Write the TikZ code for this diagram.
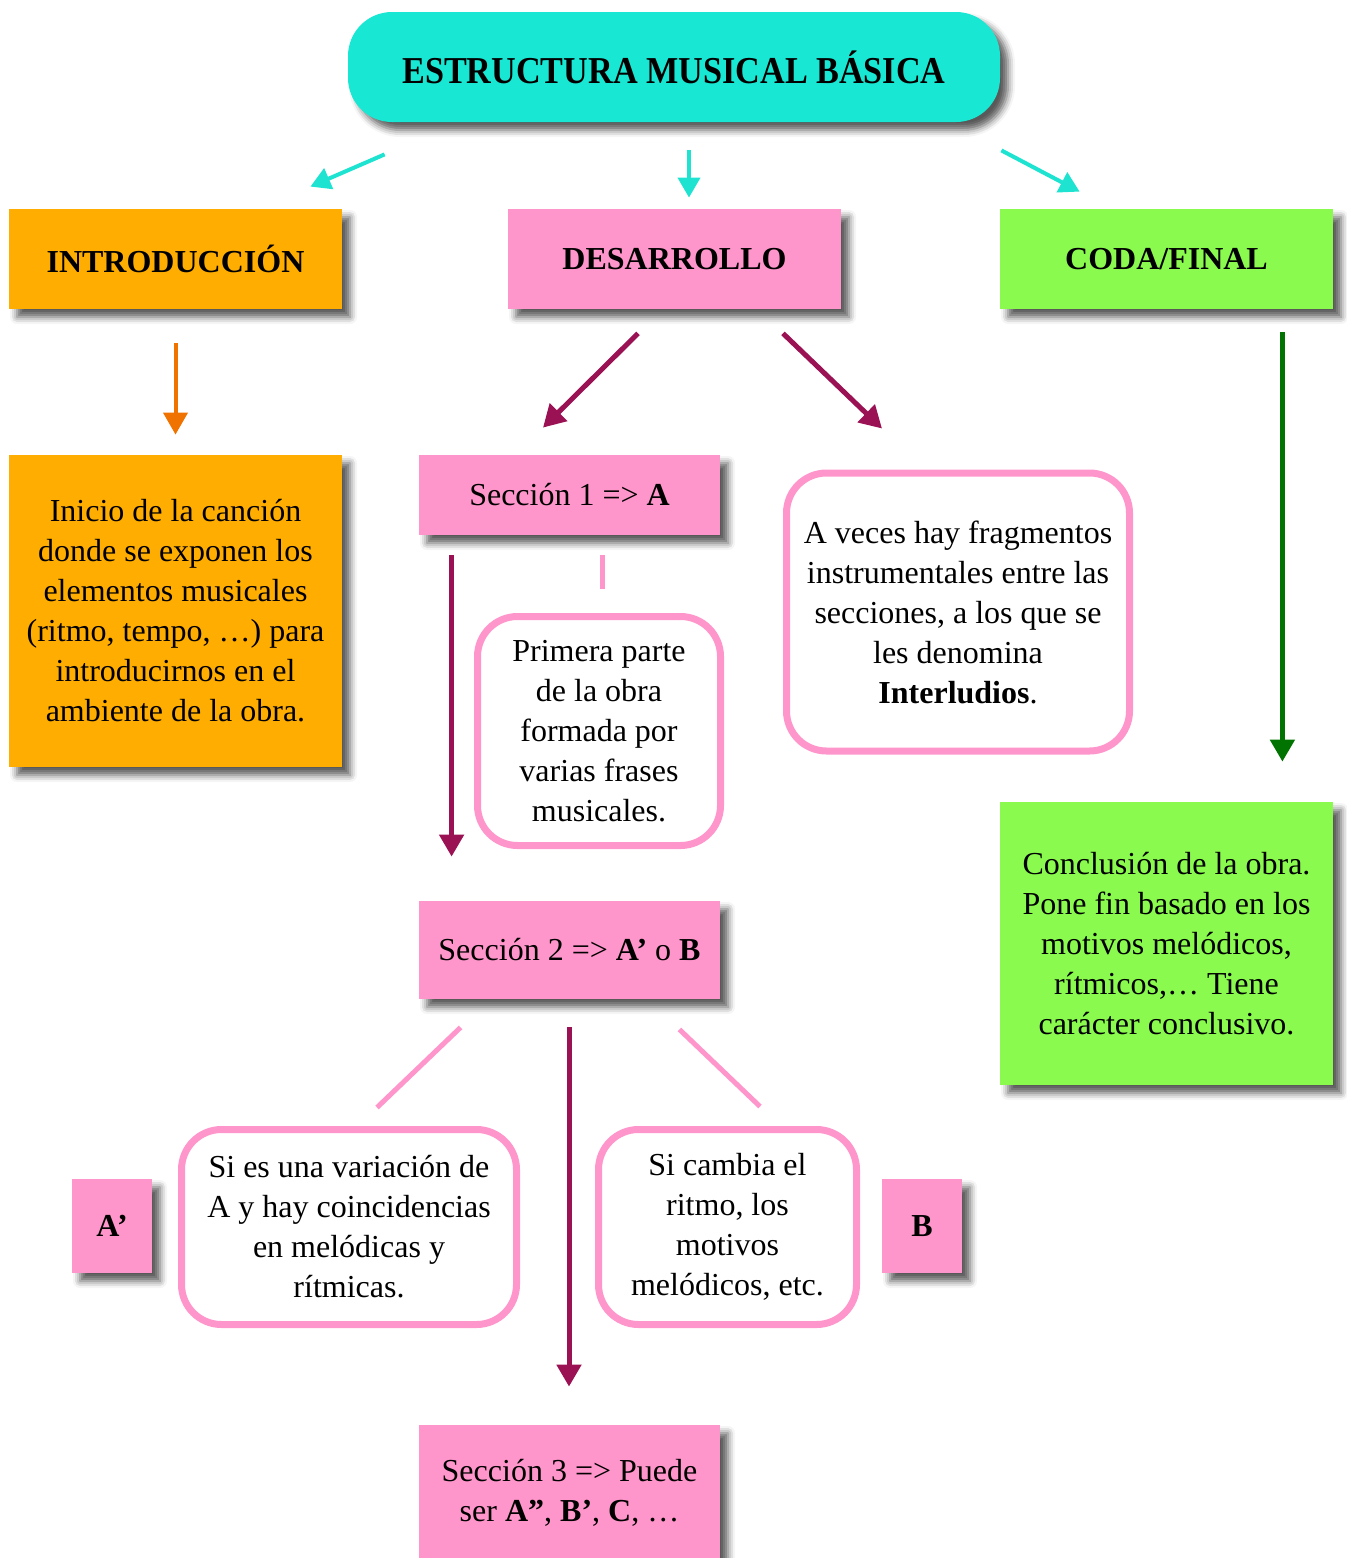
\documentclass[tikz,border=0pt]{standalone}
\usepackage{fontspec}
\setmainfont{Liberation Serif}
\usetikzlibrary{arrows.meta,positioning,calc,shadows.blur}
\definecolor{TitleTeal}{HTML}{18E8D3}
\definecolor{IntroOrange}{HTML}{FFAD00}
\definecolor{SecPink}{HTML}{FF96CB}
\definecolor{CodaGreen}{HTML}{8AFA4F}
\definecolor{ArrTeal}{HTML}{1EE3D0}
\definecolor{ArrOrange}{HTML}{F07300}
\definecolor{ArrPurple}{HTML}{9A1154}
\definecolor{ArrGreen}{HTML}{007300}
\begin{document}
\begin{tikzpicture}[x=0.5pt, y=-0.5pt,
  every node/.style={font=\fontsize{16}{20}\selectfont, align=center, inner sep=0pt},
  fillbox/.style={draw=none, blur shadow={shadow xshift=4pt, shadow yshift=-4pt, shadow blur radius=3.5pt, shadow opacity=65}},
  boldlabel/.style={font=\fontsize{16}{20}\selectfont\bfseries},
  notebox/.style={draw=SecPink, line width=3.5pt, rounded corners=20pt, fill=white},
  tipped/.style={-{Triangle[width=12pt,length=11pt]}},
  titlearrow/.style={tipped, draw=ArrTeal, line width=2pt, -{Triangle[width=11pt,length=10pt]}},
  purplearrow/.style={tipped, draw=ArrPurple, line width=2.5pt},
  pinkline/.style={draw=SecPink, line width=2.5pt}]
\useasboundingbox (0,0) rectangle (1346,1558);

% title and top row
\node[fillbox, fill=TitleTeal, rounded corners=22pt, minimum width=326pt, minimum height=55pt,
  font=\fontsize{19}{22}\selectfont\bfseries] (title) at (674,67) {\scalebox{0.9}[1]{ESTRUCTURA MUSICAL BÁSICA}};
\node[fillbox, boldlabel, fill=IntroOrange, minimum width=166.5pt, minimum height=50pt] (intro) at (175.5,259) {INTRODUCCIÓN};
\node[fillbox, boldlabel, fill=SecPink, minimum width=166.5pt, minimum height=50pt] (des) at (674.5,259) {DESARROLLO};
\node[fillbox, boldlabel, fill=CodaGreen, minimum width=166.5pt, minimum height=50pt] (coda) at (1166.5,259) {CODA/FINAL};

% left column
\node[fillbox, fill=IntroOrange, minimum width=166.5pt, minimum height=156pt] (introtext) at (175.5,611)
  {Inicio de la canción\\donde se exponen los\\elementos musicales\\(ritmo, tempo, …) para\\introducirnos en el\\ambiente de la obra.};

% middle column
\node[fillbox, fill=SecPink, minimum width=150.5pt, minimum height=40pt] (sec1) at (569.5,495) {Sección 1 => \textbf{A}};
\node[notebox, minimum width=121.5pt, minimum height=114.5pt] (primera) at (599,731)
  {Primera parte\\de la obra\\formada por\\varias frases\\musicales.};
\node[notebox, minimum width=171.5pt, minimum height=139pt] (inter) at (958,612)
  {A veces hay fragmentos\\instrumentales entre las\\secciones, a los que se\\les denomina\\\textbf{Interludios}.};
\node[fillbox, fill=SecPink, minimum width=150.5pt, minimum height=49pt] (sec2) at (569.5,950) {Sección 2 => \textbf{A’} o \textbf{B}};
\node[notebox, minimum width=167.5pt, minimum height=97.5pt] (variacion) at (349,1227)
  {Si es una variación de\\A y hay coincidencias\\en melódicas y\\rítmicas.};
\node[notebox, minimum width=129pt, minimum height=97.5pt] (cambia) at (727.5,1227)
  {Si cambia el\\ritmo, los\\motivos\\melódicos, etc.};
\node[fillbox, boldlabel, fill=SecPink, minimum width=40pt, minimum height=47pt] (aprima) at (112,1226) {A’};
\node[fillbox, boldlabel, fill=SecPink, minimum width=40pt, minimum height=47pt] (bvar) at (922,1226) {B};
\node[fillbox, fill=SecPink, minimum width=150.5pt, minimum height=68pt] (sec3) at (569.5,1493)
  {Sección 3 => Puede\\ser \textbf{A”}, \textbf{B’}, \textbf{C}, …};

% right column
\node[fillbox, fill=CodaGreen, minimum width=166.5pt, minimum height=141.5pt] (concl) at (1166.5,943.5)
  {Conclusión de la obra.\\Pone fin basado en los\\motivos melódicos,\\rítmicos,… Tiene\\carácter conclusivo.};

% connectors
\draw[titlearrow] ($(title.south west)+(37,32)$) -- ($(intro.north east)+(-32,-22)$);
\draw[titlearrow] ($(title.south)+(15,28)$) -- ($(des.north)+(14.5,-11)$);
\draw[titlearrow] ($(title.south east)+(1,28)$) -- ($(coda.north west)+(80,-17)$);
\draw[tipped, draw=ArrOrange, line width=2pt] ($(intro.south)+(0,34)$) -- ($(introtext.north)+(0,-20)$);
\draw[purplearrow] ($(des.south)+(-36.5,24)$) -- ($(sec1.north)+(-26.5,-27)$);
\draw[purplearrow] ($(des.south)+(108.5,24)$) -- ($(inter.north)+(-76,-41)$);
\draw[purplearrow] ($(sec1.south west)+(33,20)$) -- ($(sec2.north west)+(33,-44)$);
\draw[pinkline] ($(sec1.south)+(32.5,20)$) -- ($(primera.north)+(3,-24.5)$);
\draw[pinkline] ($(sec2.south west)+(42,28)$) -- ($(variacion.north)+(28,-18.5)$);
\draw[pinkline] ($(sec2.south east)+(-41,30)$) -- ($(cambia.north)+(32.5,-19.5)$);
\draw[purplearrow] ($(sec2.south)+(-0.5,28)$) -- ($(sec3.north)+(-0.5,-38)$);
\draw[tipped, draw=ArrGreen, line width=2.5pt] ($(coda.south east)+(-51,23)$) -- ($(concl.north east)+(-51,-40)$);
\end{tikzpicture}
\end{document}
